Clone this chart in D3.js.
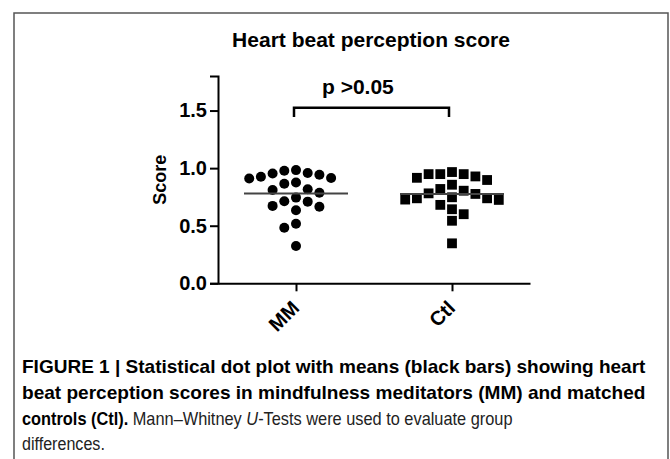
<!DOCTYPE html>
<html>
<head>
<meta charset="utf-8">
<script src="https://cdn.jsdelivr.net/npm/d3@7/dist/d3.min.js"></script>
<style>
    body { margin: 0; background: #fff; }
    svg { display: block; font-family: "Liberation Sans", Arial, Helvetica, sans-serif; }
</style>
</head>
<body>
<div id="chart"></div>
<script>
'use strict';

// Heart beat perception scores (one value per subject).
var groups     = ['MM', 'Ctl'];
var mmScores   = [0.953, 0.925, 0.910, 0.983, 0.977, 0.914, 0.942, 0.957, 0.865, 0.876, 0.816,
                  0.810, 0.787, 0.744, 0.712, 0.709, 0.672, 0.664, 0.634, 0.517, 0.483, 0.324];
var ctlScores  = [0.966, 0.948, 0.928, 0.897, 0.916, 0.948, 0.948, 0.856, 0.804, 0.819, 0.776,
                  0.738, 0.727, 0.781, 0.724, 0.738, 0.747, 0.681, 0.643, 0.600, 0.543, 0.347];
var yTicks     = [0.0, 0.5, 1.0, 1.5];
var yMax       = 1.8;
var chartTitle = 'Heart beat perception score';
var yLabel     = 'Score';
var pText      = 'p >0.05';

var width  = 670,
    height = 459,
    margin = {top: 76, right: 140, bottom: 176, left: 218};

var svg = d3.select('#chart').append('svg')
    .attr('width', width)
    .attr('height', height);

// frame around the figure (bottom edge runs off the page)
svg.append('path')
    .attr('d', 'M14,' + (height + 5) + 'V13H668V' + (height + 5))
    .attr('fill', 'none')
    .attr('stroke', '#555')
    .attr('stroke-width', 1.5);

var x = d3.scalePoint()
    .domain(groups)
    .range([margin.left, width - margin.right])
    .padding(0.5);

var y = d3.scaleLinear()
    .domain([0, yMax])
    .range([height - margin.bottom + 0.3, margin.top]);

// simple greedy beeswarm: offsets on a half-dot grid, no overlaps
function swarm(values, step, minDist) {
    var order   = d3.range(values.length).sort(function (a, b) { return values[b] - values[a]; }),
        placed  = [],
        offsets = new Array(values.length);

    order.forEach(function (i) {
        var py = y(values[i]);
        for (var k = 0; k < 60; k++) {
            var off = (k === 0 ? 0 : (k % 2 ? -1 : 1) * Math.ceil(k / 2)) * step;
            var free = placed.every(function (p) {
                return Math.hypot(p.x - off, p.y - py) >= minDist;
            });
            if (free) {
                offsets[i] = off;
                placed.push({x: off, y: py});
                break;
            }
        }
    });

    return offsets;
}

// title
svg.append('text')
    .attr('x', (margin.left + width - margin.right) / 2 - 3)
    .attr('y', 46.5)
    .attr('text-anchor', 'middle')
    .style('font-size', '21px')
    .style('font-weight', 'bold')
    .text(chartTitle);

// y axis
var yAxis = svg.append('g')
    .attr('transform', 'translate(' + margin.left + ',0)')
    .call(d3.axisLeft(y).tickValues(yTicks).tickFormat(d3.format('.1f')).tickSize(8).tickPadding(3));

yAxis.select('.domain').attr('stroke-width', 2);
yAxis.selectAll('.tick line').attr('stroke-width', 2);
yAxis.selectAll('.tick text')
    .attr('fill', '#000')
    .style('font-size', '20px')
    .style('font-weight', 'bold')
    .style('font-family', '"Liberation Sans", Arial, sans-serif');

svg.append('text')
    .attr('transform', 'translate(166,' + ((y(0) + y(yMax)) / 2) + ') rotate(-90)')
    .attr('text-anchor', 'middle')
    .style('font-size', '18px')
    .style('font-weight', 'bold')
    .text(yLabel);

// x axis
var xAxis = svg.append('g')
    .attr('transform', 'translate(0,' + y(0) + ')')
    .call(d3.axisBottom(x).tickSize(8).tickSizeOuter(0).tickPadding(6));

xAxis.select('.domain').attr('stroke-width', 2);
xAxis.selectAll('.tick line').attr('stroke-width', 2);
xAxis.selectAll('.tick text')
    .attr('fill', '#000')
    .attr('text-anchor', 'end')
    .attr('dy', '0.35em')
    .attr('transform', 'translate(-1,21) rotate(-45)')
    .attr('y', 0)
    .style('font-size', '20px')
    .style('font-weight', 'bold')
    .style('font-family', '"Liberation Sans", Arial, sans-serif');

// points
var dotStep = 5.85,
    dotDist = 11.2;

var mmOffsets = swarm(mmScores, dotStep, dotDist);
svg.append('g').selectAll('circle')
    .data(mmScores)
    .enter().append('circle')
    .attr('cx', function (d, i) { return x('MM') + mmOffsets[i]; })
    .attr('cy', function (d) { return y(d); })
    .attr('r', 5)
    .attr('fill', '#000');

var ctlOffsets = swarm(ctlScores, dotStep, dotDist);
var side = 9.8;
svg.append('g').selectAll('rect')
    .data(ctlScores)
    .enter().append('rect')
    .attr('x', function (d, i) { return x('Ctl') + ctlOffsets[i] - side / 2; })
    .attr('y', function (d) { return y(d) - side / 2; })
    .attr('width', side)
    .attr('height', side)
    .attr('fill', '#000');

// mean bars
[{g: 'MM', v: d3.mean(mmScores)}, {g: 'Ctl', v: d3.mean(ctlScores)}].forEach(function (m) {
    svg.append('line')
        .attr('x1', x(m.g) - 52)
        .attr('x2', x(m.g) + 52)
        .attr('y1', y(m.v))
        .attr('y2', y(m.v))
        .attr('stroke', '#444')
        .attr('stroke-width', 2);
});

// significance bracket
var bTop = y(1.525), bLeg = y(1.445);
svg.append('path')
    .attr('d', 'M' + (x('MM') - 2) + ',' + bLeg + 'V' + bTop + 'H' + (x('Ctl') - 3) + 'V' + bLeg)
    .attr('fill', 'none')
    .attr('stroke', '#000')
    .attr('stroke-width', 2.5);

svg.append('text')
    .attr('x', x('MM') + 26)
    .attr('y', 94)
    .style('font-size', '21px')
    .style('font-weight', 'bold')
    .text(pText);

// caption: each line is squeezed horizontally to the width it has in the figure
var caption = svg.append('g')
    .style('font-size', '17.5px');

function captionLine(yPos, targetWidth, fill) {
    var g = caption.append('g');
    var t = g.append('text').attr('x', 0).attr('y', 0).attr('fill', fill);
    return {
        g: g, t: t, fit: function () {
            var len = t.node().getComputedTextLength();
            g.attr('transform', 'translate(22,' + yPos + ') scale(' + (targetWidth / len) + ',1)');
        }
    };
}

var l1 = captionLine(373, 624, '#000');
l1.t.style('font-weight', 'bold').text('FIGURE 1 | Statistical dot plot with means (black bars) showing heart');
l1.fit();

var l2 = captionLine(399, 624, '#000');
l2.t.style('font-weight', 'bold').text('beat perception scores in mindfulness meditators (MM) and matched');
l2.fit();

var l3 = captionLine(425, 491, '#222');
l3.t.append('tspan').style('font-weight', 'bold').attr('fill', '#000').text('controls (Ctl).');
l3.t.append('tspan').text(' Mann\u2013Whitney ');
l3.t.append('tspan').style('font-style', 'italic').text('U');
l3.t.append('tspan').text('-Tests were used to evaluate group');
l3.fit();

var l4 = captionLine(450, 83, '#222');
l4.t.text('differences.');
l4.fit();
</script>
</body>
</html>
